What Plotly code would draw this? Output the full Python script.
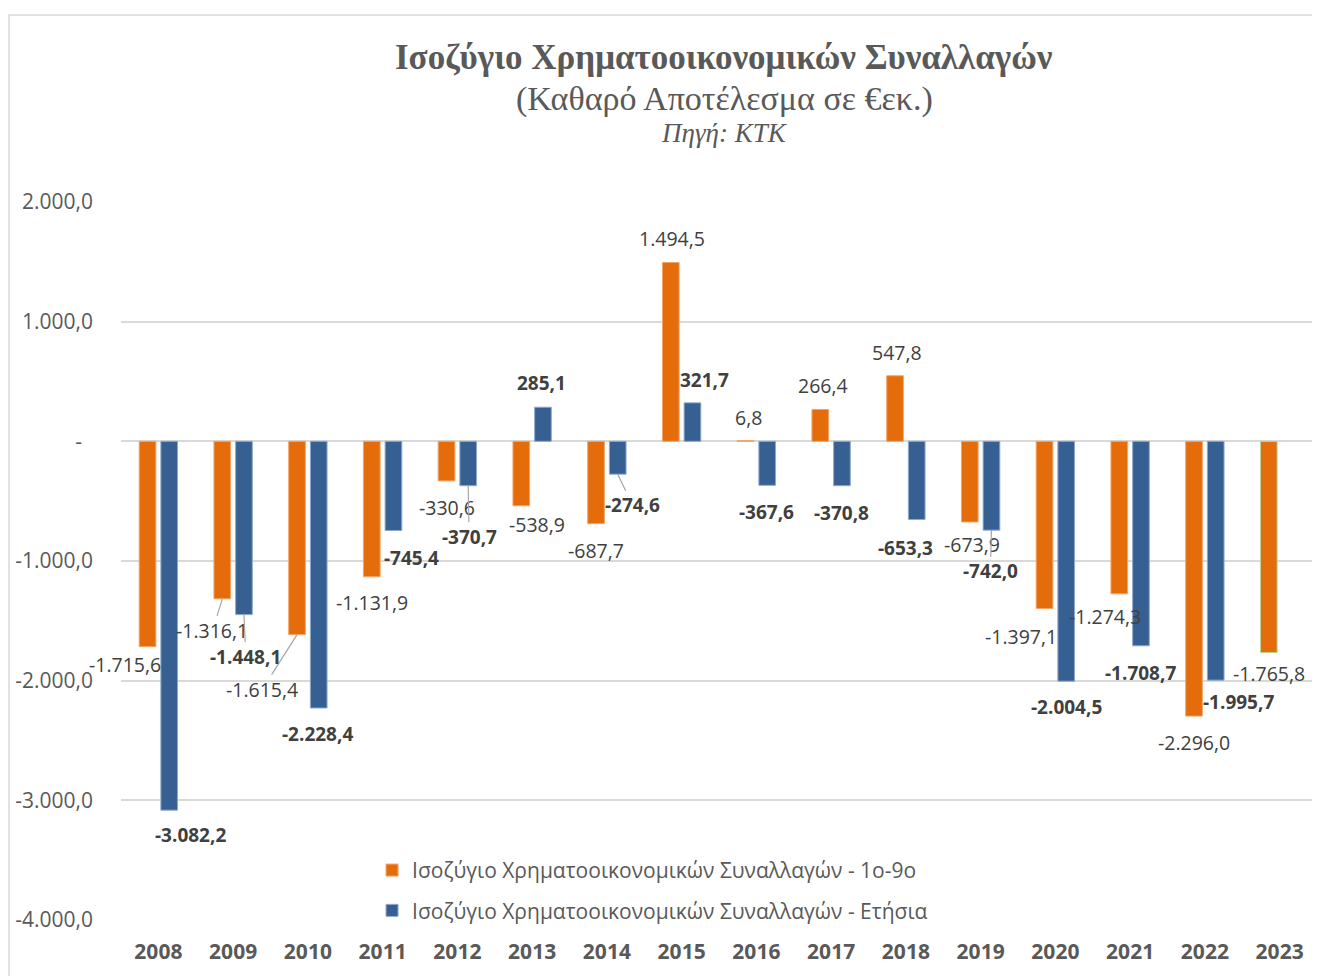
import plotly.graph_objects as go

years = [str(y) for y in range(2008, 2024)]
nine_month = [-1715.6, -1316.1, -1615.4, -1131.9, -330.6, -538.9, -687.7, 1494.5,
              6.8, 266.4, 547.8, -673.9, -1397.1, -1274.3, -2296.0, -1765.8]
annual = [-3082.2, -1448.1, -2228.4, -745.4, -370.7, 285.1, -274.6, 321.7,
          -367.6, -370.8, -653.3, -742.0, -2004.5, -1708.7, -1995.7, None]
y_ticks = [2000, 1000, 0, -1000, -2000, -3000, -4000]

name_9m = "Ισοζύγιο Χρηματοοικονομικών Συναλλαγών - 1ο-9ο"
name_yr = "Ισοζύγιο Χρηματοοικονομικών Συναλλαγών - Ετήσια"

# label placement (pixel offsets of label centre from bar end; leader flag)
off_9m = [(-23, 18, 0), (-10, 32, 1), (-35, 55, 1), (0, 26, 0), (0, 27, 0), (16, 19, 0),
          (0, 27, 0), (1, -24, 0), (3, -23, 0), (3, -24, 0), (2, -23, 0), (2, 23, 0),
          (-24, 28, 0), (-14, 23, 0), (0, 26, 0), (0, 21, 0)]
off_yr = [(21, 25, 0), (2, 42, 1), (-1, 26, 0), (18, 27, 0), (1, 51, 1), (-1, -24, 0),
          (15, 31, 1), (12, -23, 0), (-1, 27, 0), (0, 27, 0), (-11, 28, 0), (-1, 41, 1),
          (0, 26, 0), (0, 27, 0), (23, 22, 0), None]

ORANGE = "#E46C0A"
BLUE = "#376092"
SANS = "Open Sans"
SERIF = "Liberation Serif"
GRID = "#d9d9d9"
TXT = "#595959"
LBL = "#404040"
BAR_OFF = 10.8


def fmt(v):
    s = f"{abs(v):,.1f}".replace(",", "X").replace(".", ",").replace("X", ".")
    return ("-" if v < 0 else "") + s


fig = go.Figure()
fig.add_trace(go.Bar(x=years, y=nine_month, name=name_9m, legendgroup="a",
                     marker=dict(color=ORANGE,
                                 line=dict(color=["#F4A46A"] * 15 + ["#C3D69B"], width=1))))
fig.add_trace(go.Bar(x=years, y=annual, name=name_yr, legendgroup="b",
                     marker=dict(color=BLUE, line=dict(color="#8FA9CC", width=1))))

annotations = []
for series, offs, sign, bold in [(nine_month, off_9m, -1, False), (annual, off_yr, 1, True)]:
    for i, (v, o) in enumerate(zip(series, offs)):
        if v is None or o is None:
            continue
        dx, dy, lead = o
        txt = fmt(v)
        if bold:
            txt = "<b>" + txt + "</b>"
        a = dict(x=i, y=v, xref="x", yref="y", text=txt,
                 xanchor="center", yanchor="middle",
                 font=dict(family=SANS, size=19 if bold else 19.5, color=LBL))
        if lead:
            a.update(showarrow=True, arrowhead=0, arrowwidth=1.2, arrowcolor="#a6a6a6",
                     ax=dx, ay=dy, xshift=sign * BAR_OFF, standoff=0)
        else:
            a.update(showarrow=False, xshift=sign * BAR_OFF + dx, yshift=-dy)
        annotations.append(a)

# titles
annotations += [
    dict(x=0.5045, y=1.2006, xref="paper", yref="paper", showarrow=False,
         xanchor="center", yanchor="middle",
         text="<b>Ισοζύγιο Χρηματοοικονομικών Συναλλαγών</b>",
         font=dict(family=SERIF, size=35, color=TXT)),
    dict(x=0.5045, y=1.1435, xref="paper", yref="paper", showarrow=False,
         xanchor="center", yanchor="middle",
         text="(Καθαρό Αποτέλεσμα σε €εκ.)",
         font=dict(family=SERIF, size=34, color=TXT)),
    dict(x=0.5045, y=1.0961, xref="paper", yref="paper", showarrow=False,
         xanchor="center", yanchor="middle",
         text="<i>Πηγή: ΚΤΚ</i>",
         font=dict(family=SERIF, size=27, color=TXT)),
]

tick_text = [("-\u00a0\u00a0" if t == 0 else fmt(t)) for t in y_ticks]

fig.update_layout(
    width=1312, height=968,
    margin=dict(l=113, r=3, t=194, b=56),
    paper_bgcolor="white", plot_bgcolor="white",
    barmode="group", bargap=0.42, bargroupgap=0.23,
    showlegend=True,
    legend=dict(x=0.2099, y=0.0976, xanchor="left", yanchor="top",
                font=dict(family=SANS, size=21, color=TXT),
                bgcolor="rgba(0,0,0,0)", tracegroupgap=10,
                itemwidth=30),
    annotations=annotations,
    shapes=[dict(type="rect", xref="paper", yref="paper",
                 x0=-0.0936, x1=1.05, y0=-0.2, y1=1.2604,
                 line=dict(color=GRID, width=1.5), layer="below")],
)
fig.update_xaxes(type="category", range=[-0.5, len(years) - 0.5], autorange=False,
                 showgrid=False, zeroline=False, showline=False,
                 ticks="", ticklabelstandoff=17,
                 tickfont=dict(family=SANS, size=21, color=TXT, weight="bold"))
fig.update_yaxes(range=[-4000, 2000], autorange=False, tickvals=y_ticks, ticktext=tick_text,
                 showgrid=True, gridcolor=GRID, gridwidth=1.5, zeroline=False,
                 showline=False, ticks="", ticklabelstandoff=27,
                 tickfont=dict(family=SANS, size=21, color=TXT))

fig.write_html("out.html")
